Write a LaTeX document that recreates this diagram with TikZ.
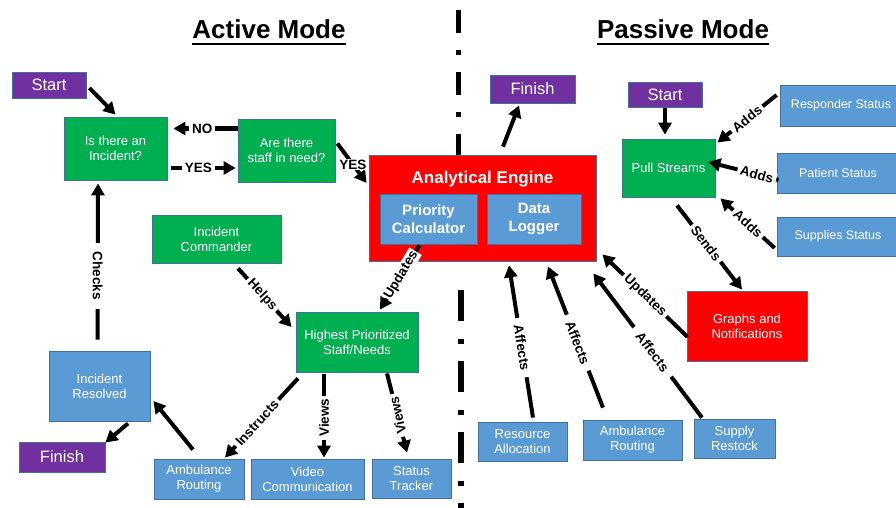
\documentclass[tikz,border=0pt]{standalone}
\usepackage{fontspec}
\setmainfont{Liberation Sans}
\usetikzlibrary{arrows.meta,calc}
\definecolor{cpurple}{HTML}{7030A0}
\definecolor{cgreen}{HTML}{00B050}
\definecolor{cblue}{HTML}{5B9BD5}
\definecolor{cred}{HTML}{FF0000}
\definecolor{cborder}{HTML}{41719C}
\begin{document}
\begin{tikzpicture}[x=1pt,y=-1pt,
 wh/.style 2 args={minimum width=#1pt, minimum height=#2pt},
 box/.style={draw=cborder, line width=0.8pt, text=white, align=center, inner sep=0pt, font=\fontsize{13}{15}\selectfont},
 pbox/.style={box, fill=cpurple, font=\fontsize{16.5}{19}\selectfont},
 gbox/.style={box, fill=cgreen},
 bbox/.style={box, fill=cblue},
 sbox/.style={box, fill=cblue, font=\fontsize{12.5}{15}\selectfont},
 rbox/.style={box, fill=cred},
 ibox/.style={box, fill=cblue, font=\bfseries\fontsize{15}{17.5}\selectfont},
 arr/.style={line width=4pt, -{Triangle[length=12pt,width=13pt]}},
 lbl/.style={fill=white, inner ysep=1pt, inner xsep=3pt, font=\bfseries\fontsize{13.5}{15}\selectfont, text=black},
 ttl/.style={inner sep=0pt, anchor=base, font=\bfseries\fontsize{26}{30}\selectfont},
 sep/.style={line width=5.5pt},
]
\path[use as bounding box] (0,0) rectangle (896,508);
% separator
\draw[sep, dash pattern=on 23pt off 17pt on 5pt off 17pt] (458.5,10) -- (458.5,155);
\draw[sep, dash pattern=on 31pt off 18pt on 5pt off 17pt] (461,290) -- (461,512);
% titles
\node[ttl] (t1) at (269,39) {Active Mode};
\node[ttl] (t2) at (683,39) {Passive Mode};
\draw[line width=2pt] ($(t1.base west)+(0,5)$) -- ($(t1.base east)+(0,5)$);
\draw[line width=2pt] ($(t2.base west)+(0,5)$) -- ($(t2.base east)+(0,5)$);
% active mode nodes
\node[pbox, wh={74}{26}] (start1) at (49,85) {Start};
\node[gbox, wh={103}{63}] (inc) at (115.5,148.5) {Is there an\\Incident?};
\node[gbox, wh={97}{63}] (staff) at (286.5,150.5) {Are there\\staff in need?};
\node[gbox, wh={129}{48}] (cmd) at (216.5,239) {Incident\\Commander};
\node[gbox, wh={122}{60}] (high) at (357,342) {Highest Prioritized\\Staff/Needs};
\node[bbox, wh={101}{70}] (resolved) at (99.5,386) {Incident\\Resolved};
\node[pbox, wh={86}{30}] (fin1) at (62,457) {Finish};
\node[bbox, wh={90}{40}] (amb1) at (199,479) {Ambulance\\Routing};
\node[bbox, wh={113}{40}] (video) at (307.5,479) {Video\\Communication};
\node[bbox, wh={79}{39}] (status) at (411.5,478.5) {Status\\Tracker};
% engine
\node[rbox, wh={227}{106}] (engine) at (482.5,208) {};
\node[text=white, inner sep=0pt, font=\bfseries\fontsize{17}{20}\selectfont] (engt) at (482.5,179) {Analytical Engine};
\node[ibox, wh={97}{50}] (prio) at (428.5,219) {Priority\\Calculator};
\node[ibox, wh={94}{50}] (logger) at (534,219) {Data\\Logger};
\node[pbox, wh={85}{28}] (fin2) at (532.5,89) {Finish};
% passive mode nodes
\node[pbox, wh={74}{25}] (start2) at (665,94.5) {Start};
\node[gbox, wh={93}{58}] (pull) at (668.5,168) {Pull Streams};
\node[sbox, wh={122}{41}] (resp) at (841,105.5) {Responder Status};
\node[sbox, wh={122}{40}] (pat) at (838,173) {Patient Status};
\node[sbox, wh={122}{39}] (sup) at (838,236.5) {Supplies Status};
\node[rbox, wh={120}{70}] (graphs) at (747,326) {Graphs and\\Notifications};
\node[bbox, wh={89}{39}] (resalloc) at (522.5,441.5) {Resource\\Allocation};
\node[bbox, wh={99}{40}] (amb2) at (632.5,440) {Ambulance\\Routing};
\node[bbox, wh={81}{39}] (restock) at (734.5,438.5) {Supply\\Restock};
% active arrows
\draw[arr] ($(start1.east)+(3,3)$) -- ($(inc.north)+(0,-2)$);
\draw[arr] ($(staff.west)+(0,-22)$) -- node[lbl,pos=0.55]{NO} ($(inc.east)+(6,-20)$);
\draw[arr] ($(inc.east)+(4,19.5)$) -- node[lbl,pos=0.42]{YES} ($(staff.west)+(-2,17.5)$);
\draw[arr] ($(staff.east)+(2,-7)$) -- node[lbl,pos=0.53]{YES} ($(engine.west)+(-2,-25)$);
\draw[arr] ($(resolved.north)+(-2,-11)$) -- node[lbl,rotate=-90,pos=0.41,inner xsep=9pt]{Checks} ($(inc.south)+(-17.5,3)$);
\draw[arr] ($(cmd.south)+(21.5,5)$) -- node[lbl,rotate=-47.5,pos=0.45]{Helps} ($(high.west)+(-4,-15)$);
\draw[arr] ($(prio.south)+(-9,1)$) -- node[lbl,rotate=59,pos=0.46,inner xsep=1pt]{Updates} ($(high.north)+(23,-2)$);
\draw[arr] ($(high.south)+(-59,6)$) -- node[lbl,rotate=47.6,pos=0.56]{Instructs} ($(amb1.north)+(26,-1)$);
\draw[arr] ($(high.south)+(-33,2)$) -- node[lbl,rotate=90,pos=0.52]{Views} ($(video.north)+(16.5,-1)$);
\draw[arr] ($(high.south)+(30,1)$) -- node[lbl,rotate=102,pos=0.53]{Views} ($(status.north)+(-4.5,-6)$);
\draw[arr] ($(amb1.north)+(-6,-9)$) -- ($(resolved.east)+(3,15)$);
\draw[arr] ($(resolved.south)+(28.5,2)$) -- ($(fin1.north east)+(0,1)$);
% passive arrows
\draw[arr] ($(engine.north)+(20.5,-8)$) -- ($(fin2.south)+(-13.5,2)$);
\draw[arr] ($(start2.south)+(0,1)$) -- ($(pull.north)+(-3.5,-4)$);
\draw[arr] ($(resp.west)+(-3,-10.5)$) -- node[lbl,rotate=38.7,pos=0.5]{Adds} ($(pull.north east)+(2,4)$);
\draw[arr] ($(pat.west)+(2,7)$) -- node[lbl,rotate=-15,pos=0.31]{Adds} ($(pull.east)+(-7,-6)$);
\draw[arr] ($(sup.west)+(-2,11.5)$) -- node[lbl,rotate=-42,pos=0.49]{Adds} ($(pull.south east)+(5,1)$);
\draw[arr] ($(pull.south)+(8.5,8)$) -- node[lbl,rotate=-52.6,pos=0.45]{Sends} ($(graphs.north)+(-5,-1)$);
\draw[arr] ($(graphs.west)+(1,11)$) -- node[lbl,rotate=-44,pos=0.5]{Updates} ($(engine.south east)+(6,-7)$);
\draw[arr] ($(resalloc.north)+(10.5,-4)$) -- node[lbl,rotate=-81,pos=0.46,inner xsep=7pt]{Affects} ($(engine.south)+(26.5,4)$);
\draw[arr] ($(amb2.north)+(-29.5,-12)$) -- node[lbl,rotate=-69,pos=0.46,inner xsep=7pt]{Affects} ($(engine.south)+(65.5,5)$);
\draw[arr] ($(restock.north)+(-32.5,-1)$) -- node[lbl,rotate=-53,pos=0.455,inner xsep=8pt]{Affects} ($(engine.south east)+(-3,12)$);
\end{tikzpicture}
\end{document}
